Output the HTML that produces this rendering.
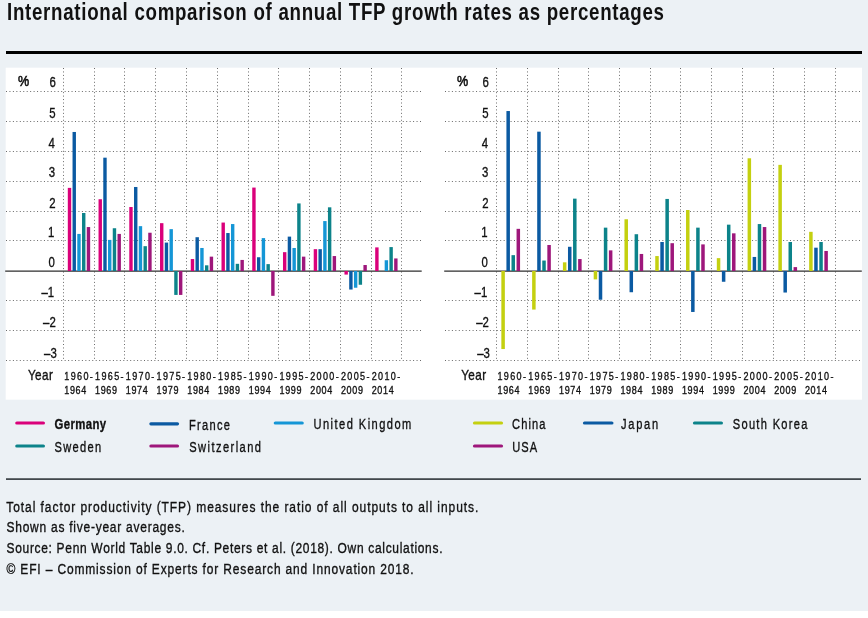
<!DOCTYPE html>
<html><head><meta charset="utf-8">
<style>
html,body{margin:0;padding:0;background:#fff;}
body{width:868px;height:618px;overflow:hidden;position:relative;}
svg{position:absolute;left:0;top:0;will-change:transform;}
.g{stroke:#6a6a6a;stroke-width:1;stroke-dasharray:1 2.45;}
.gv{stroke:#6a6a6a;stroke-width:1;stroke-dasharray:1 2.45;}
.z{stroke:#2e2e2e;stroke-width:1.25;}
text{font-family:"Liberation Sans",sans-serif;fill:#111;stroke:#111;stroke-width:0.35;}
</style></head><body>
<svg width="868" height="618" viewBox="0 0 868 618">
<rect x="0" y="0" width="868" height="611" fill="#ecf1f5"/>
<g transform="translate(7,20.3) scale(0.8,1)"><text x="0" y="0" font-size="23.4" font-weight="bold" textLength="821.25" lengthAdjust="spacing" style="stroke-width:0">International comparison of annual TFP growth rates as percentages</text></g>
<rect x="6" y="51" width="856" height="3" fill="#000"/>
<rect x="5.7" y="67.7" width="856.3" height="332" fill="#fff"/>
<line x1="6" y1="91.5" x2="423" y2="91.5" class="g"/>
<line x1="6" y1="121.5" x2="423" y2="121.5" class="g"/>
<line x1="6" y1="151.5" x2="423" y2="151.5" class="g"/>
<line x1="6" y1="181.5" x2="423" y2="181.5" class="g"/>
<line x1="6" y1="211.5" x2="423" y2="211.5" class="g"/>
<line x1="6" y1="240.5" x2="423" y2="240.5" class="g"/>
<line x1="6" y1="300.5" x2="423" y2="300.5" class="g"/>
<line x1="6" y1="330.5" x2="423" y2="330.5" class="g"/>
<line x1="6" y1="360.5" x2="423" y2="360.5" class="g"/>
<line x1="63.5" y1="68" x2="63.5" y2="360.5" class="gv"/>
<line x1="94.5" y1="68" x2="94.5" y2="360.5" class="gv"/>
<line x1="124.5" y1="68" x2="124.5" y2="360.5" class="gv"/>
<line x1="155.5" y1="68" x2="155.5" y2="360.5" class="gv"/>
<line x1="186.5" y1="68" x2="186.5" y2="360.5" class="gv"/>
<line x1="217.5" y1="68" x2="217.5" y2="360.5" class="gv"/>
<line x1="248.5" y1="68" x2="248.5" y2="360.5" class="gv"/>
<line x1="278.5" y1="68" x2="278.5" y2="360.5" class="gv"/>
<line x1="309.5" y1="68" x2="309.5" y2="360.5" class="gv"/>
<line x1="340.5" y1="68" x2="340.5" y2="360.5" class="gv"/>
<line x1="371.5" y1="68" x2="371.5" y2="360.5" class="gv"/>
<line x1="401.5" y1="68" x2="401.5" y2="360.5" class="gv"/>
<line x1="5.2" y1="271" x2="421.7" y2="271" class="z"/>
<rect x="67.8" y="187.88" width="3.4" height="83.12" fill="#da007a"/>
<rect x="72.54" y="131.97" width="3.4" height="139.03" fill="#0b5aa2"/>
<rect x="77.28" y="233.92" width="3.4" height="37.08" fill="#1496d6"/>
<rect x="82.02" y="212.99" width="3.4" height="58.01" fill="#0c838a"/>
<rect x="86.76" y="227.05" width="3.4" height="43.95" fill="#9e177b"/>
<rect x="98.54" y="199.24" width="3.4" height="71.76" fill="#da007a"/>
<rect x="103.28" y="157.68" width="3.4" height="113.32" fill="#0b5aa2"/>
<rect x="108.02" y="239.9" width="3.4" height="31.1" fill="#1496d6"/>
<rect x="112.76" y="228.24" width="3.4" height="42.76" fill="#0c838a"/>
<rect x="117.5" y="233.92" width="3.4" height="37.08" fill="#9e177b"/>
<rect x="129.28" y="207.01" width="3.4" height="63.99" fill="#da007a"/>
<rect x="134.02" y="186.98" width="3.4" height="84.02" fill="#0b5aa2"/>
<rect x="138.76" y="226.15" width="3.4" height="44.85" fill="#1496d6"/>
<rect x="143.5" y="246.18" width="3.4" height="24.82" fill="#0c838a"/>
<rect x="148.24" y="232.73" width="3.4" height="38.27" fill="#9e177b"/>
<rect x="160.02" y="223.16" width="3.4" height="47.84" fill="#da007a"/>
<rect x="164.76" y="242.59" width="3.4" height="28.41" fill="#0b5aa2"/>
<rect x="169.5" y="229.14" width="3.4" height="41.86" fill="#1496d6"/>
<rect x="174.24" y="271" width="3.4" height="23.92" fill="#0c838a"/>
<rect x="178.98" y="271" width="3.4" height="23.92" fill="#9e177b"/>
<rect x="190.76" y="259.04" width="3.4" height="11.96" fill="#da007a"/>
<rect x="195.5" y="237.21" width="3.4" height="33.79" fill="#0b5aa2"/>
<rect x="200.24" y="247.98" width="3.4" height="23.02" fill="#1496d6"/>
<rect x="204.98" y="265.32" width="3.4" height="5.68" fill="#0c838a"/>
<rect x="209.72" y="256.65" width="3.4" height="14.35" fill="#9e177b"/>
<rect x="221.5" y="222.56" width="3.4" height="48.44" fill="#da007a"/>
<rect x="226.24" y="233.03" width="3.4" height="37.97" fill="#0b5aa2"/>
<rect x="230.98" y="224.06" width="3.4" height="46.94" fill="#1496d6"/>
<rect x="235.72" y="263.82" width="3.4" height="7.18" fill="#0c838a"/>
<rect x="240.46" y="259.94" width="3.4" height="11.06" fill="#9e177b"/>
<rect x="252.24" y="187.58" width="3.4" height="83.42" fill="#da007a"/>
<rect x="256.98" y="257.25" width="3.4" height="13.75" fill="#0b5aa2"/>
<rect x="261.72" y="238.11" width="3.4" height="32.89" fill="#1496d6"/>
<rect x="266.46" y="264.12" width="3.4" height="6.88" fill="#0c838a"/>
<rect x="271.2" y="271" width="3.4" height="24.82" fill="#9e177b"/>
<rect x="282.98" y="252.16" width="3.4" height="18.84" fill="#da007a"/>
<rect x="287.72" y="236.62" width="3.4" height="34.38" fill="#0b5aa2"/>
<rect x="292.46" y="247.98" width="3.4" height="23.02" fill="#1496d6"/>
<rect x="297.2" y="203.43" width="3.4" height="67.57" fill="#0c838a"/>
<rect x="301.94" y="256.65" width="3.4" height="14.35" fill="#9e177b"/>
<rect x="313.72" y="249.17" width="3.4" height="21.83" fill="#da007a"/>
<rect x="318.46" y="249.17" width="3.4" height="21.83" fill="#0b5aa2"/>
<rect x="323.2" y="221.07" width="3.4" height="49.93" fill="#1496d6"/>
<rect x="327.94" y="207.31" width="3.4" height="63.69" fill="#0c838a"/>
<rect x="332.68" y="256.05" width="3.4" height="14.95" fill="#9e177b"/>
<rect x="344.46" y="271" width="3.4" height="3.59" fill="#da007a"/>
<rect x="349.2" y="271" width="3.4" height="18.54" fill="#0b5aa2"/>
<rect x="353.94" y="271" width="3.4" height="16.74" fill="#1496d6"/>
<rect x="358.68" y="271" width="3.4" height="13.75" fill="#0c838a"/>
<rect x="363.42" y="265.02" width="3.4" height="5.98" fill="#9e177b"/>
<rect x="375.2" y="247.38" width="3.4" height="23.62" fill="#da007a"/>
<rect x="384.68" y="260.24" width="3.4" height="10.76" fill="#1496d6"/>
<rect x="389.42" y="247.08" width="3.4" height="23.92" fill="#0c838a"/>
<rect x="394.16" y="258.44" width="3.4" height="12.56" fill="#9e177b"/>
<g transform="translate(55.8,87.2) scale(0.76,1)"><text x="0" y="0" font-size="15" text-anchor="end">6</text></g>
<g transform="translate(55.6,118) scale(0.76,1)"><text x="0" y="0" font-size="15" text-anchor="end">5</text></g>
<g transform="translate(54.9,147.8) scale(0.76,1)"><text x="0" y="0" font-size="15" text-anchor="end">4</text></g>
<g transform="translate(55.2,177.2) scale(0.76,1)"><text x="0" y="0" font-size="15" text-anchor="end">3</text></g>
<g transform="translate(55.6,207.5) scale(0.76,1)"><text x="0" y="0" font-size="15" text-anchor="end">2</text></g>
<g transform="translate(54.4,237.3) scale(0.76,1)"><text x="0" y="0" font-size="15" text-anchor="end">1</text></g>
<g transform="translate(54.8,266.9) scale(0.76,1)"><text x="0" y="0" font-size="15" text-anchor="end">0</text></g>
<g transform="translate(54.2,296.9) scale(0.76,1)"><text x="0" y="0" font-size="15" text-anchor="end">–1</text></g>
<g transform="translate(55.8,327) scale(0.76,1)"><text x="0" y="0" font-size="15" text-anchor="end">–2</text></g>
<g transform="translate(56.8,358.2) scale(0.76,1)"><text x="0" y="0" font-size="15" text-anchor="end">–3</text></g>
<g transform="translate(17.9,86) scale(0.84,1)"><text x="0" y="0" font-size="15" style="stroke-width:0.6">%</text></g>
<g transform="translate(27.9,379.5) scale(0.85,1)"><text x="0" y="0" font-size="13.8" textLength="29.41" lengthAdjust="spacing">Year</text></g>
<g transform="translate(64.3,379.7) scale(0.82,1)"><text x="0" y="0" font-size="11" textLength="34.76" lengthAdjust="spacing">1960-</text></g>
<g transform="translate(64.3,393.7) scale(0.82,1)"><text x="0" y="0" font-size="11" textLength="26.83" lengthAdjust="spacing">1964</text></g>
<g transform="translate(95.04,379.7) scale(0.82,1)"><text x="0" y="0" font-size="11" textLength="34.76" lengthAdjust="spacing">1965-</text></g>
<g transform="translate(95.04,393.7) scale(0.82,1)"><text x="0" y="0" font-size="11" textLength="26.83" lengthAdjust="spacing">1969</text></g>
<g transform="translate(125.78,379.7) scale(0.82,1)"><text x="0" y="0" font-size="11" textLength="34.76" lengthAdjust="spacing">1970-</text></g>
<g transform="translate(125.78,393.7) scale(0.82,1)"><text x="0" y="0" font-size="11" textLength="26.83" lengthAdjust="spacing">1974</text></g>
<g transform="translate(156.52,379.7) scale(0.82,1)"><text x="0" y="0" font-size="11" textLength="34.76" lengthAdjust="spacing">1975-</text></g>
<g transform="translate(156.52,393.7) scale(0.82,1)"><text x="0" y="0" font-size="11" textLength="26.83" lengthAdjust="spacing">1979</text></g>
<g transform="translate(187.26,379.7) scale(0.82,1)"><text x="0" y="0" font-size="11" textLength="34.76" lengthAdjust="spacing">1980-</text></g>
<g transform="translate(187.26,393.7) scale(0.82,1)"><text x="0" y="0" font-size="11" textLength="26.83" lengthAdjust="spacing">1984</text></g>
<g transform="translate(218,379.7) scale(0.82,1)"><text x="0" y="0" font-size="11" textLength="34.76" lengthAdjust="spacing">1985-</text></g>
<g transform="translate(218,393.7) scale(0.82,1)"><text x="0" y="0" font-size="11" textLength="26.83" lengthAdjust="spacing">1989</text></g>
<g transform="translate(248.74,379.7) scale(0.82,1)"><text x="0" y="0" font-size="11" textLength="34.76" lengthAdjust="spacing">1990-</text></g>
<g transform="translate(248.74,393.7) scale(0.82,1)"><text x="0" y="0" font-size="11" textLength="26.83" lengthAdjust="spacing">1994</text></g>
<g transform="translate(279.48,379.7) scale(0.82,1)"><text x="0" y="0" font-size="11" textLength="34.76" lengthAdjust="spacing">1995-</text></g>
<g transform="translate(279.48,393.7) scale(0.82,1)"><text x="0" y="0" font-size="11" textLength="26.83" lengthAdjust="spacing">1999</text></g>
<g transform="translate(310.22,379.7) scale(0.82,1)"><text x="0" y="0" font-size="11" textLength="34.76" lengthAdjust="spacing">2000-</text></g>
<g transform="translate(310.22,393.7) scale(0.82,1)"><text x="0" y="0" font-size="11" textLength="26.83" lengthAdjust="spacing">2004</text></g>
<g transform="translate(340.96,379.7) scale(0.82,1)"><text x="0" y="0" font-size="11" textLength="34.76" lengthAdjust="spacing">2005-</text></g>
<g transform="translate(340.96,393.7) scale(0.82,1)"><text x="0" y="0" font-size="11" textLength="26.83" lengthAdjust="spacing">2009</text></g>
<g transform="translate(371.7,379.7) scale(0.82,1)"><text x="0" y="0" font-size="11" textLength="34.76" lengthAdjust="spacing">2010-</text></g>
<g transform="translate(371.7,393.7) scale(0.82,1)"><text x="0" y="0" font-size="11" textLength="26.83" lengthAdjust="spacing">2014</text></g>
<line x1="445" y1="91.5" x2="861.5" y2="91.5" class="g"/>
<line x1="445" y1="121.5" x2="861.5" y2="121.5" class="g"/>
<line x1="445" y1="151.5" x2="861.5" y2="151.5" class="g"/>
<line x1="445" y1="181.5" x2="861.5" y2="181.5" class="g"/>
<line x1="445" y1="211.5" x2="861.5" y2="211.5" class="g"/>
<line x1="445" y1="240.5" x2="861.5" y2="240.5" class="g"/>
<line x1="445" y1="300.5" x2="861.5" y2="300.5" class="g"/>
<line x1="445" y1="330.5" x2="861.5" y2="330.5" class="g"/>
<line x1="445" y1="360.5" x2="861.5" y2="360.5" class="g"/>
<line x1="496.5" y1="68" x2="496.5" y2="360.5" class="gv"/>
<line x1="527.5" y1="68" x2="527.5" y2="360.5" class="gv"/>
<line x1="558.5" y1="68" x2="558.5" y2="360.5" class="gv"/>
<line x1="588.5" y1="68" x2="588.5" y2="360.5" class="gv"/>
<line x1="619.5" y1="68" x2="619.5" y2="360.5" class="gv"/>
<line x1="650.5" y1="68" x2="650.5" y2="360.5" class="gv"/>
<line x1="680.5" y1="68" x2="680.5" y2="360.5" class="gv"/>
<line x1="711.5" y1="68" x2="711.5" y2="360.5" class="gv"/>
<line x1="742.5" y1="68" x2="742.5" y2="360.5" class="gv"/>
<line x1="773.5" y1="68" x2="773.5" y2="360.5" class="gv"/>
<line x1="804.5" y1="68" x2="804.5" y2="360.5" class="gv"/>
<line x1="835.5" y1="68" x2="835.5" y2="360.5" class="gv"/>
<line x1="444.2" y1="271" x2="861.8" y2="271" class="z"/>
<rect x="501.35" y="271" width="3.5" height="78.04" fill="#c4d010"/>
<rect x="506.42" y="111.04" width="3.5" height="159.96" fill="#0b5aa2"/>
<rect x="511.49" y="255.15" width="3.5" height="15.85" fill="#0c838a"/>
<rect x="516.56" y="228.84" width="3.5" height="42.16" fill="#9e177b"/>
<rect x="532.13" y="271" width="3.5" height="38.57" fill="#c4d010"/>
<rect x="537.2" y="131.67" width="3.5" height="139.33" fill="#0b5aa2"/>
<rect x="542.27" y="260.54" width="3.5" height="10.46" fill="#0c838a"/>
<rect x="547.34" y="244.99" width="3.5" height="26.01" fill="#9e177b"/>
<rect x="562.91" y="262.33" width="3.5" height="8.67" fill="#c4d010"/>
<rect x="567.98" y="246.78" width="3.5" height="24.22" fill="#0b5aa2"/>
<rect x="573.05" y="198.64" width="3.5" height="72.36" fill="#0c838a"/>
<rect x="578.12" y="259.04" width="3.5" height="11.96" fill="#9e177b"/>
<rect x="593.69" y="271" width="3.5" height="8.37" fill="#c4d010"/>
<rect x="598.76" y="271" width="3.5" height="28.7" fill="#0b5aa2"/>
<rect x="603.83" y="227.65" width="3.5" height="43.35" fill="#0c838a"/>
<rect x="608.9" y="250.37" width="3.5" height="20.63" fill="#9e177b"/>
<rect x="624.47" y="219.27" width="3.5" height="51.73" fill="#c4d010"/>
<rect x="629.54" y="271" width="3.5" height="21.23" fill="#0b5aa2"/>
<rect x="634.61" y="234.22" width="3.5" height="36.78" fill="#0c838a"/>
<rect x="639.68" y="253.96" width="3.5" height="17.04" fill="#9e177b"/>
<rect x="655.25" y="256.05" width="3.5" height="14.95" fill="#c4d010"/>
<rect x="660.32" y="242" width="3.5" height="29" fill="#0b5aa2"/>
<rect x="665.39" y="198.94" width="3.5" height="72.06" fill="#0c838a"/>
<rect x="670.46" y="243.19" width="3.5" height="27.81" fill="#9e177b"/>
<rect x="686.03" y="210" width="3.5" height="61" fill="#c4d010"/>
<rect x="691.1" y="271" width="3.5" height="40.96" fill="#0b5aa2"/>
<rect x="696.17" y="227.65" width="3.5" height="43.35" fill="#0c838a"/>
<rect x="701.24" y="244.39" width="3.5" height="26.61" fill="#9e177b"/>
<rect x="716.81" y="258.14" width="3.5" height="12.86" fill="#c4d010"/>
<rect x="721.88" y="271" width="3.5" height="10.76" fill="#0b5aa2"/>
<rect x="726.95" y="224.66" width="3.5" height="46.34" fill="#0c838a"/>
<rect x="732.02" y="233.33" width="3.5" height="37.67" fill="#9e177b"/>
<rect x="747.59" y="158.28" width="3.5" height="112.72" fill="#c4d010"/>
<rect x="752.66" y="256.95" width="3.5" height="14.05" fill="#0b5aa2"/>
<rect x="757.73" y="224.06" width="3.5" height="46.94" fill="#0c838a"/>
<rect x="762.8" y="227.05" width="3.5" height="43.95" fill="#9e177b"/>
<rect x="778.37" y="164.86" width="3.5" height="106.14" fill="#c4d010"/>
<rect x="783.44" y="271" width="3.5" height="21.53" fill="#0b5aa2"/>
<rect x="788.51" y="242" width="3.5" height="29" fill="#0c838a"/>
<rect x="793.58" y="267.11" width="3.5" height="3.89" fill="#9e177b"/>
<rect x="809.15" y="231.83" width="3.5" height="39.17" fill="#c4d010"/>
<rect x="814.22" y="247.68" width="3.5" height="23.32" fill="#0b5aa2"/>
<rect x="819.29" y="242" width="3.5" height="29" fill="#0c838a"/>
<rect x="824.36" y="250.97" width="3.5" height="20.03" fill="#9e177b"/>
<g transform="translate(488.9,87.2) scale(0.76,1)"><text x="0" y="0" font-size="15" text-anchor="end">6</text></g>
<g transform="translate(488.7,118) scale(0.76,1)"><text x="0" y="0" font-size="15" text-anchor="end">5</text></g>
<g transform="translate(488,147.8) scale(0.76,1)"><text x="0" y="0" font-size="15" text-anchor="end">4</text></g>
<g transform="translate(488.3,177.2) scale(0.76,1)"><text x="0" y="0" font-size="15" text-anchor="end">3</text></g>
<g transform="translate(488.7,207.5) scale(0.76,1)"><text x="0" y="0" font-size="15" text-anchor="end">2</text></g>
<g transform="translate(487.5,237.3) scale(0.76,1)"><text x="0" y="0" font-size="15" text-anchor="end">1</text></g>
<g transform="translate(487.9,266.9) scale(0.76,1)"><text x="0" y="0" font-size="15" text-anchor="end">0</text></g>
<g transform="translate(487.3,296.9) scale(0.76,1)"><text x="0" y="0" font-size="15" text-anchor="end">–1</text></g>
<g transform="translate(488.9,327) scale(0.76,1)"><text x="0" y="0" font-size="15" text-anchor="end">–2</text></g>
<g transform="translate(489.9,358.2) scale(0.76,1)"><text x="0" y="0" font-size="15" text-anchor="end">–3</text></g>
<g transform="translate(456.9,86) scale(0.84,1)"><text x="0" y="0" font-size="15" style="stroke-width:0.6">%</text></g>
<g transform="translate(461.2,379.5) scale(0.85,1)"><text x="0" y="0" font-size="13.8" textLength="29.41" lengthAdjust="spacing">Year</text></g>
<g transform="translate(497.5,379.7) scale(0.82,1)"><text x="0" y="0" font-size="11" textLength="34.76" lengthAdjust="spacing">1960-</text></g>
<g transform="translate(497.5,393.7) scale(0.82,1)"><text x="0" y="0" font-size="11" textLength="26.83" lengthAdjust="spacing">1964</text></g>
<g transform="translate(528.24,379.7) scale(0.82,1)"><text x="0" y="0" font-size="11" textLength="34.76" lengthAdjust="spacing">1965-</text></g>
<g transform="translate(528.24,393.7) scale(0.82,1)"><text x="0" y="0" font-size="11" textLength="26.83" lengthAdjust="spacing">1969</text></g>
<g transform="translate(558.98,379.7) scale(0.82,1)"><text x="0" y="0" font-size="11" textLength="34.76" lengthAdjust="spacing">1970-</text></g>
<g transform="translate(558.98,393.7) scale(0.82,1)"><text x="0" y="0" font-size="11" textLength="26.83" lengthAdjust="spacing">1974</text></g>
<g transform="translate(589.72,379.7) scale(0.82,1)"><text x="0" y="0" font-size="11" textLength="34.76" lengthAdjust="spacing">1975-</text></g>
<g transform="translate(589.72,393.7) scale(0.82,1)"><text x="0" y="0" font-size="11" textLength="26.83" lengthAdjust="spacing">1979</text></g>
<g transform="translate(620.46,379.7) scale(0.82,1)"><text x="0" y="0" font-size="11" textLength="34.76" lengthAdjust="spacing">1980-</text></g>
<g transform="translate(620.46,393.7) scale(0.82,1)"><text x="0" y="0" font-size="11" textLength="26.83" lengthAdjust="spacing">1984</text></g>
<g transform="translate(651.2,379.7) scale(0.82,1)"><text x="0" y="0" font-size="11" textLength="34.76" lengthAdjust="spacing">1985-</text></g>
<g transform="translate(651.2,393.7) scale(0.82,1)"><text x="0" y="0" font-size="11" textLength="26.83" lengthAdjust="spacing">1989</text></g>
<g transform="translate(681.94,379.7) scale(0.82,1)"><text x="0" y="0" font-size="11" textLength="34.76" lengthAdjust="spacing">1990-</text></g>
<g transform="translate(681.94,393.7) scale(0.82,1)"><text x="0" y="0" font-size="11" textLength="26.83" lengthAdjust="spacing">1994</text></g>
<g transform="translate(712.68,379.7) scale(0.82,1)"><text x="0" y="0" font-size="11" textLength="34.76" lengthAdjust="spacing">1995-</text></g>
<g transform="translate(712.68,393.7) scale(0.82,1)"><text x="0" y="0" font-size="11" textLength="26.83" lengthAdjust="spacing">1999</text></g>
<g transform="translate(743.42,379.7) scale(0.82,1)"><text x="0" y="0" font-size="11" textLength="34.76" lengthAdjust="spacing">2000-</text></g>
<g transform="translate(743.42,393.7) scale(0.82,1)"><text x="0" y="0" font-size="11" textLength="26.83" lengthAdjust="spacing">2004</text></g>
<g transform="translate(774.16,379.7) scale(0.82,1)"><text x="0" y="0" font-size="11" textLength="34.76" lengthAdjust="spacing">2005-</text></g>
<g transform="translate(774.16,393.7) scale(0.82,1)"><text x="0" y="0" font-size="11" textLength="26.83" lengthAdjust="spacing">2009</text></g>
<g transform="translate(804.9,379.7) scale(0.82,1)"><text x="0" y="0" font-size="11" textLength="34.76" lengthAdjust="spacing">2010-</text></g>
<g transform="translate(804.9,393.7) scale(0.82,1)"><text x="0" y="0" font-size="11" textLength="26.83" lengthAdjust="spacing">2014</text></g>
<line x1="16.8" y1="423" x2="43.4" y2="423" stroke="#da007a" stroke-width="3.2" stroke-linecap="round"/>
<g transform="translate(54.6,428.8) scale(0.76,1)"><text x="0" y="0" font-size="15" font-weight="bold" textLength="67.76" lengthAdjust="spacing">Germany</text></g>
<line x1="150.9" y1="423.8" x2="177.5" y2="423.8" stroke="#0b5aa2" stroke-width="3.2" stroke-linecap="round"/>
<g transform="translate(188.9,429.6) scale(0.74,1)"><text x="0" y="0" font-size="15" textLength="55.41" lengthAdjust="spacing">France</text></g>
<line x1="275.3" y1="423" x2="302.2" y2="423" stroke="#1496d6" stroke-width="3.2" stroke-linecap="round"/>
<g transform="translate(313.5,428.8) scale(0.74,1)"><text x="0" y="0" font-size="15" textLength="132.16" lengthAdjust="spacing">United Kingdom</text></g>
<line x1="16.8" y1="446" x2="43.4" y2="446" stroke="#0c838a" stroke-width="3.2" stroke-linecap="round"/>
<g transform="translate(54.6,451.8) scale(0.74,1)"><text x="0" y="0" font-size="15" textLength="62.84" lengthAdjust="spacing">Sweden</text></g>
<line x1="150.9" y1="446" x2="177.5" y2="446" stroke="#9e177b" stroke-width="3.2" stroke-linecap="round"/>
<g transform="translate(189.2,451.8) scale(0.74,1)"><text x="0" y="0" font-size="15" textLength="97.03" lengthAdjust="spacing">Switzerland</text></g>
<line x1="474.5" y1="423" x2="501.5" y2="423" stroke="#c4d010" stroke-width="3.2" stroke-linecap="round"/>
<g transform="translate(512,428.8) scale(0.74,1)"><text x="0" y="0" font-size="15" textLength="45.27" lengthAdjust="spacing">China</text></g>
<line x1="584.5" y1="423" x2="611.9" y2="423" stroke="#0b5aa2" stroke-width="3.2" stroke-linecap="round"/>
<g transform="translate(621,428.8) scale(0.74,1)"><text x="0" y="0" font-size="15" textLength="50.27" lengthAdjust="spacing">Japan</text></g>
<line x1="694.5" y1="423" x2="721.4" y2="423" stroke="#0c838a" stroke-width="3.2" stroke-linecap="round"/>
<g transform="translate(732.7,428.8) scale(0.74,1)"><text x="0" y="0" font-size="15" textLength="101.08" lengthAdjust="spacing">South Korea</text></g>
<line x1="474.5" y1="446" x2="501.5" y2="446" stroke="#9e177b" stroke-width="3.2" stroke-linecap="round"/>
<g transform="translate(512.3,451.8) scale(0.74,1)"><text x="0" y="0" font-size="15" textLength="33.51" lengthAdjust="spacing">USA</text></g>
<rect x="6" y="478.3" width="855" height="1.6" fill="#30353a"/>
<g transform="translate(6.3,511.9) scale(0.8,1)"><text x="0" y="0" font-size="15" textLength="590" lengthAdjust="spacing">Total factor productivity (TFP) measures the ratio of all outputs to all inputs.</text></g>
<g transform="translate(6.5,531.8) scale(0.8,1)"><text x="0" y="0" font-size="15" textLength="222.88" lengthAdjust="spacing">Shown as five-year averages.</text></g>
<g transform="translate(6.5,552.7) scale(0.8,1)"><text x="0" y="0" font-size="15" textLength="545" lengthAdjust="spacing">Source: Penn World Table 9.0. Cf. Peters et al. (2018). Own calculations.</text></g>
<g transform="translate(6.5,573.7) scale(0.8,1)"><text x="0" y="0" font-size="15" textLength="509" lengthAdjust="spacing">© EFI – Commission of Experts for Research and Innovation 2018.</text></g>
</svg>
</body></html>
